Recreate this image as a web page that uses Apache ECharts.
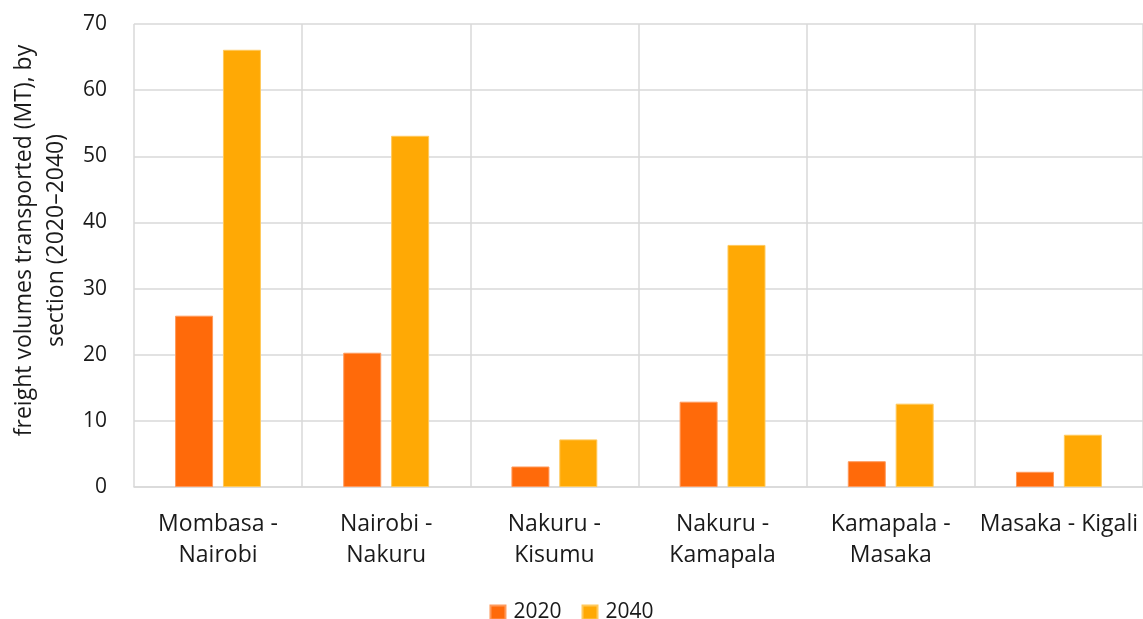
<!DOCTYPE html>
<html>
<head>
<meta charset="utf-8">
<script src="https://cdn.jsdelivr.net/npm/echarts@6/dist/echarts.min.js"></script>
<style>
html,body{margin:0;padding:0;background:#fff;}
#chart{width:1143px;height:619px;}
</style>
</head>
<body>
<div id="chart"></div>
<script>
const categories = ['Mombasa -\nNairobi', 'Nairobi -\nNakuru', 'Nakuru -\nKisumu', 'Nakuru -\nKamapala', 'Kamapala -\nMasaka', 'Masaka - Kigali'];
const seriesNames = ['2020', '2040'];
const values2020 = [25.9, 20.3, 3.1, 12.9, 3.9, 2.3];
const values2040 = [66.1, 53.1, 7.2, 36.6, 12.6, 7.9];
const yTicks = { min: 0, max: 70, interval: 10 };
const yAxisName = 'freight volumes transported (MT), by\nsection (2020\u20132040)';

const font = '"Open Sans", "Noto Sans", sans-serif';
const textColor = '#1a1a1a';
const chart = echarts.init(document.getElementById('chart'), null, { renderer: 'canvas' });
chart.setOption({
  animation: false,
  backgroundColor: '#fff',
  textStyle: { fontFamily: font },
  grid: { left: 132, right: 0, top: 24, bottom: 132, containLabel: false },
  legend: {
    data: seriesNames,
    top: 597,
    left: 'center',
    itemWidth: 15,
    itemHeight: 14,
    itemGap: 20,
    icon: 'rect',
    textStyle: { fontSize: 21, color: textColor, fontFamily: font, padding: [0, 0, 0, 3] }
  },
  xAxis: {
    type: 'category',
    data: categories,
    axisLine: { show: true, lineStyle: { color: '#d9d9d9', width: 1.5 } },
    axisTick: { show: false },
    splitLine: { show: true, lineStyle: { color: '#d9d9d9', width: 1.5 } },
    axisLabel: { fontSize: 23, color: textColor, fontFamily: font, lineHeight: 31, margin: 22, interval: 0 }
  },
  yAxis: {
    type: 'value',
    min: yTicks.min,
    max: yTicks.max,
    interval: yTicks.interval,
    name: yAxisName,
    nameLocation: 'middle',
    nameGap: 58,
    nameRotate: 90,
    nameTextStyle: { fontSize: 23, color: textColor, fontFamily: font, lineHeight: 32, align: 'center', padding: [0, 0, 0, 30] },
    axisLine: { show: false },
    axisTick: { show: false },
    splitLine: { show: true, lineStyle: { color: '#d9d9d9', width: 1.5 } },
    axisLabel: { fontSize: 21, color: textColor, fontFamily: font, margin: 27 }
  },
  series: [
    {
      name: seriesNames[0],
      type: 'bar',
      data: values2020,
      barWidth: 38,
      barGap: '26%',
      itemStyle: { color: '#FF6A0A', borderColor: '#FF9A5C', borderWidth: 1 }
    },
    {
      name: seriesNames[1],
      type: 'bar',
      data: values2040,
      barWidth: 38,
      barGap: '26%',
      itemStyle: { color: '#FFA905', borderColor: '#FFC95C', borderWidth: 1 }
    }
  ]
});
</script>
</body>
</html>
